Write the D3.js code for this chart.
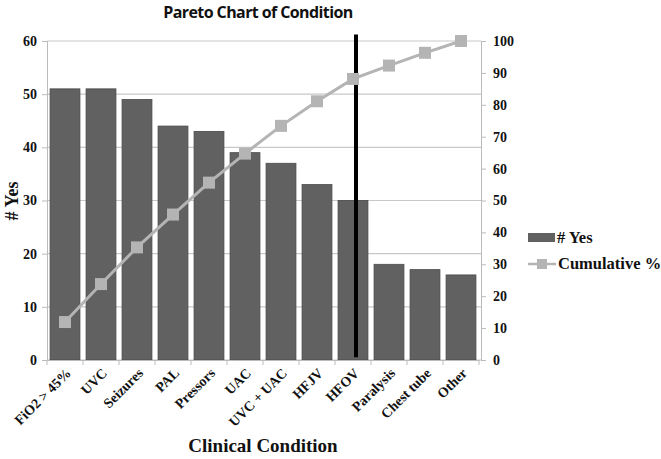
<!DOCTYPE html>
<html><head><meta charset="utf-8">
<script src="https://cdn.jsdelivr.net/npm/d3@7"></script>
<style>body{margin:0;background:#fff}svg{display:block}</style>
</head><body>
<script>
const categories = ["FiO2 > 45%","UVC","Seizures","PAL","Pressors","UAC","UVC + UAC","HFJV","HFOV","Paralysis","Chest tube","Other"];
const yesCounts = [51,51,49,44,43,39,37,33,30,18,17,16];
const cumulativePct = [11.9,23.8,35.3,45.6,55.6,64.7,73.4,81.1,88.1,92.3,96.3,100];
const leftTicks = [0,10,20,30,40,50,60];
const rightTicks = [0,10,20,30,40,50,60,70,80,90,100];
const cutoffCategory = "HFOV";

const W=661,H=459;
const m={l:47,r:481,t:41,b:360};
const svg=d3.select("body").append("svg").attr("width",W).attr("height",H);
const serif="'Liberation Serif','Times New Roman',serif";

const x=d3.scaleBand().domain(categories).range([m.l,m.l+432]).paddingInner(0.17).paddingOuter(0.085);
const yL=d3.scaleLinear().domain([0,60]).range([m.b,m.t]);
const yR=d3.scaleLinear().domain([0,100]).range([m.b,m.t]);

// gridlines
svg.append("g").selectAll("line").data(leftTicks).join("line")
  .attr("x1",m.l).attr("x2",m.r).attr("y1",d=>yL(d)).attr("y2",d=>yL(d))
  .attr("stroke","#c8c8c8").attr("stroke-width",1.2);

// left axis
const ax=svg.append("g").attr("transform",`translate(${m.l},0)`)
  .call(d3.axisLeft(yL).tickValues(leftTicks).tickSize(5).tickPadding(5));
ax.select(".domain").attr("stroke","#bbb");
ax.selectAll(".tick line").attr("stroke","#bbb");
ax.selectAll("text").attr("font-family",serif).attr("font-weight","bold").attr("font-size",14).attr("fill","#111");

// right axis
const ar=svg.append("g").attr("transform",`translate(${m.r},0)`)
  .call(d3.axisRight(yR).tickValues(rightTicks).tickSize(5).tickPadding(7));
ar.select(".domain").attr("stroke","#bbb");
ar.selectAll(".tick line").attr("stroke","#bbb");
ar.selectAll("text").attr("font-family",serif).attr("font-weight","bold").attr("font-size",14).attr("fill","#111");

// bars
svg.append("g").selectAll("rect").data(categories).join("rect")
  .attr("x",d=>x(d)).attr("width",x.bandwidth())
  .attr("y",(d,i)=>yL(yesCounts[i])).attr("height",(d,i)=>yL(0)-yL(yesCounts[i]))
  .attr("fill","#616161").attr("stroke","#4a4a4a").attr("stroke-width",0.8);

// bottom axis
const ab=svg.append("g").attr("transform",`translate(0,${m.b})`)
  .call(d3.axisBottom(x).tickSize(0).tickPadding(0));
ab.select(".domain").attr("stroke","#bbb");
ab.selectAll(".tick text").remove();
svg.append("g").selectAll("line").data(d3.range(13)).join("line")
  .attr("x1",i=>m.l+i*x.step()).attr("x2",i=>m.l+i*x.step())
  .attr("y1",m.b).attr("y2",m.b+5).attr("stroke","#bbb");
svg.append("g").selectAll("text").data(categories).join("text")
  .attr("transform",d=>`translate(${x(d)+x.bandwidth()/2+7},${m.b+14}) rotate(-45)`)
  .attr("text-anchor","end").attr("font-family",serif).attr("font-weight","bold")
  .attr("font-size",14).attr("fill","#111").text(d=>d);

// cutoff line
const cx=x(cutoffCategory)+x.bandwidth()/2+3;
svg.append("line").attr("x1",cx).attr("x2",cx).attr("y1",yL(61.2)).attr("y2",yL(0.5))
  .attr("stroke","#000").attr("stroke-width",4);

// cumulative line
const line=d3.line().x((d,i)=>x(categories[i])+x.bandwidth()/2).y(d=>yR(d));
svg.append("path").datum(cumulativePct).attr("d",line).attr("fill","none")
  .attr("stroke","#b4b4b4").attr("stroke-width",3);
svg.append("g").selectAll("rect").data(cumulativePct).join("rect")
  .attr("x",(d,i)=>x(categories[i])+x.bandwidth()/2-6).attr("y",d=>yR(d)-6)
  .attr("width",12).attr("height",12).attr("fill","#b4b4b4");

// titles
svg.append("text").attr("x",258).attr("y",18).attr("text-anchor","middle")
  .attr("font-family","'Open Sans',sans-serif").attr("font-weight","bold").attr("font-size",16)
  .attr("letter-spacing",-0.6).attr("fill","#111").text("Pareto Chart of Condition");
svg.append("text").attr("transform","translate(18,201) rotate(-90)").attr("text-anchor","middle")
  .attr("font-family",serif).attr("font-weight","bold").attr("font-size",18).attr("fill","#111").text("# Yes");
svg.append("text").attr("x",263).attr("y",452).attr("text-anchor","middle")
  .attr("font-family",serif).attr("font-weight","bold").attr("font-size",19).attr("fill","#111").text("Clinical Condition");

// legend
const lg=svg.append("g");
lg.append("rect").attr("x",528).attr("y",233).attr("width",27).attr("height",9).attr("fill","#616161");
lg.append("text").attr("x",557).attr("y",243).attr("font-family",serif).attr("font-weight","bold")
  .attr("font-size",16.5).attr("fill","#111").text("# Yes");
lg.append("line").attr("x1",528).attr("x2",556).attr("y1",264).attr("y2",264).attr("stroke","#b4b4b4").attr("stroke-width",2.5);
lg.append("rect").attr("x",537).attr("y",259).attr("width",10).attr("height",10).attr("fill","#b4b4b4");
lg.append("text").attr("x",558).attr("y",269).attr("font-family",serif).attr("font-weight","bold")
  .attr("font-size",16.5).attr("fill","#111").text("Cumulative %");
</script>
</body></html>
